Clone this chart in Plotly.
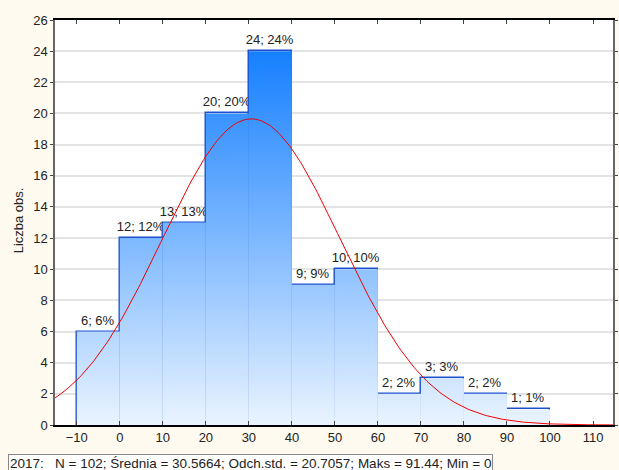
import math
import plotly.graph_objects as go

# ---- data ----
bin_edges = [-10, 0, 10, 20, 30, 40, 50, 60, 70, 80, 90, 100]
counts = [6, 12, 13, 20, 24, 9, 10, 2, 3, 2, 1]
n_total = 102
mean_val = 30.5664
std_val = 20.7057
max_val = 91.44
min_val = 0
x_ticks = [-10, 0, 10, 20, 30, 40, 50, 60, 70, 80, 90, 100, 110]
y_ticks = list(range(0, 27, 2))
y_title = "Liczba obs."
footer = ("2017:\u00a0\u00a0\u00a0N = 102; Średnia = 30.5664; Odch.std. = 20.7057; "
          "Maks = 91.44; Min = 0")

W, H = 619, 470
ML, MR, MT, MB = 55, 1, 20, 45
x_range = [-15.07, 114.65]
y_range = [0, 26]

centers = [(bin_edges[i] + bin_edges[i + 1]) / 2 for i in range(len(counts))]
widths = [bin_edges[i + 1] - bin_edges[i] for i in range(len(counts))]
labels = [f"{c}; {round(c / n_total * 100)}%" for c in counts]

fig = go.Figure()

# gradient fills for the bars
cmax = max(counts)
for i, c in enumerate(counts):
    x0, x1 = bin_edges[i], bin_edges[i + 1]
    fig.add_trace(go.Scatter(
        x=[x0, x1, x1, x0, x0], y=[0, 0, c, c, 0],
        mode="lines", line=dict(width=0), fill="toself",
        fillgradient=dict(type="vertical", start=0, stop=cmax,
                          colorscale=[[0, "rgb(234,244,255)"],
                                      [0.5, "rgb(125,184,255)"],
                                      [1, "rgb(22,128,255)"]]),
        hoverinfo="skip", showlegend=False))

# bar outlines + labels
fig.add_trace(go.Bar(
    x=centers, y=counts, width=widths,
    marker=dict(color="rgba(0,0,0,0)", line=dict(color="rgb(30,80,205)", width=1.5)),
    text=labels, textposition="outside", constraintext="none", cliponaxis=False,
    textfont=dict(family="Liberation Sans, Arial", size=13, color="#222"),
    showlegend=False))

# fitted normal curve
bw = bin_edges[1] - bin_edges[0]
xs = [x_range[0] + (x_range[1] - x_range[0]) * k / 300 for k in range(301)]
ys = [n_total * bw / (std_val * math.sqrt(2 * math.pi)) *
      math.exp(-0.5 * ((x - mean_val) / std_val) ** 2) for x in xs]
fig.add_trace(go.Scatter(x=xs, y=ys, mode="lines",
                         line=dict(color="rgb(240,0,0)", width=1),
                         hoverinfo="skip", showlegend=False))

pw = W - ML - MR
ph = H - MT - MB
fig.add_annotation(
    text=y_title, textangle=-90, xref="paper", yref="paper",
    x=(18 - ML) / pw, y=(H - MB - 220) / ph, xanchor="center", yanchor="middle",
    showarrow=False, font=dict(family="Liberation Sans, Arial", size=13, color="#222"))
fig.add_annotation(
    text=footer, xref="paper", yref="paper",
    x=(8 - ML) / pw, y=-(454 - (H - MB)) / ph, xanchor="left", yanchor="top",
    showarrow=False, align="left",
    font=dict(family="Liberation Sans, Arial", size=13.5, color="#222"),
    bordercolor="#888", borderwidth=1, borderpad=1, bgcolor="white")

fig.update_layout(
    width=W, height=H, margin=dict(l=ML, r=MR, t=MT, b=MB),
    paper_bgcolor="rgb(255,250,240)", plot_bgcolor="white",
    bargap=0, showlegend=False,
    font=dict(family="Liberation Sans, Arial", size=13, color="#222"),
    xaxis=dict(range=x_range, tickvals=x_ticks, showgrid=False, zeroline=False,
               showline=True, linecolor="black", linewidth=1.5, mirror="ticks",
               ticks="inside", ticklen=4, tickcolor="#444"),
    yaxis=dict(range=y_range, tickvals=y_ticks, showgrid=True, gridcolor="#e4e4e4",
               gridwidth=1.5, zeroline=False, showline=True, linecolor="#666",
               linewidth=1.5, mirror="ticks", ticks="outside", ticklen=3,
               tickcolor="#444"),
)

fig.write_html(
    "out.html",
    config={"displayModeBar": False},
    post_script="document.body.style.margin='0';document.body.style.padding='0';"
                "document.body.style.background='rgb(255,250,240)';"
                "document.body.style.overflow='hidden';",
)
